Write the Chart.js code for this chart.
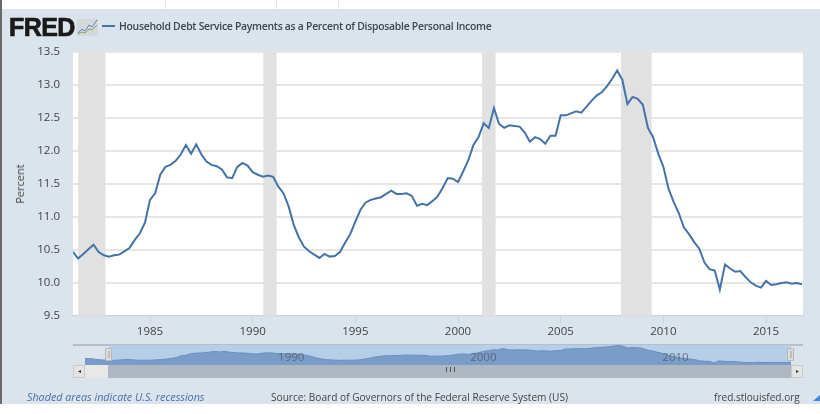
<!DOCTYPE html>
<html><head><meta charset="utf-8">
<script src="https://cdn.jsdelivr.net/npm/chart.js@4"></script>
<style>
html,body{margin:0;padding:0;background:#fff;width:820px;height:414px;overflow:hidden;font-family:"Open Sans",sans-serif}
#panel{position:absolute;left:2px;top:9px;width:818px;height:395px;background:#dbe3ec}
#edge{position:absolute;left:0;top:0;width:2px;height:404px;background:#6a6a6a}
.gap{position:absolute;top:0;width:1px;height:9px;background:#e4e8ee}
#main{position:absolute;left:0;top:0}
#nav{position:absolute;left:73px;top:344px}
#logo{position:absolute;left:9px;top:12px;font:900 25px/30px "Liberation Sans",sans-serif;color:#1a1a1a;letter-spacing:-.6px;-webkit-text-stroke:.7px #1a1a1a}
#icon{position:absolute;left:77px;top:19px}
#swatch{position:absolute;left:102px;top:25px;width:13px;height:2px;background:#4572a7}
#title{position:absolute;left:119px;top:18px;font:600 10.4px/16px "Open Sans",sans-serif;letter-spacing:-.27px;color:#3e4650;white-space:nowrap}
.foot{position:absolute;top:389px;line-height:16px;color:#444;white-space:nowrap}
#track{position:absolute;left:73px;top:344px;width:730px;height:1.5px;background:#b9bec6}
.bar{position:absolute;top:365px;height:13px}
.btn{position:absolute;top:365px;width:12px;height:13px;box-sizing:border-box;background:#e4e4e4;border:1px solid #c9c9c9;color:#333;font-size:6px;line-height:11px;text-align:center}
.handle{position:absolute;top:348px;width:7px;height:13px;box-sizing:border-box;background:#dcdcdc;border:1px solid #b5b5b5;border-radius:1px}
.handle i{position:absolute;left:1.5px;top:2px;width:2px;height:7px;background:#bdbdbd}
#grip{position:absolute;left:446px;top:367px;width:7px;height:5px;border-left:1px solid #555;border-right:1px solid #555}
#grip:after{content:"";position:absolute;left:2.5px;top:0;width:1px;height:5px;background:#555}
#corner{position:absolute;left:813px;top:395px;width:0;height:0;border-left:7px solid transparent;border-bottom:6px solid #3f86e0}
</style></head><body>
<div id="edge"></div><div class="gap" style="left:165px"></div><div class="gap" style="left:276px"></div><div class="gap" style="left:338px"></div>
<div id="panel"></div>
<canvas id="main" width="820" height="414" style="width:820px;height:414px"></canvas>
<div id="track"></div>
<canvas id="nav" width="730" height="21" style="width:730px;height:21px"></canvas>
<div id="logo">FRED</div>
<svg id="icon" width="21" height="17" viewBox="0 0 21 17"><rect width="21" height="17" fill="#d5d8da"/><polyline points="1,14 5,10 8,12 12,6 15,8 20,1" fill="none" stroke="#5b86b8" stroke-width="1"/><polyline points="1,15 5,13 8,14 12,10 15,11 20,6" fill="none" stroke="#7fa65a" stroke-width="1"/></svg>
<div id="swatch"></div>
<div id="title">Household Debt Service Payments as a Percent of Disposable Personal Income</div>
<div class="handle" style="left:105px"><i></i></div>
<div class="handle" style="left:787px"><i></i></div>
<div class="bar" style="left:85px;width:23px;background:#e8e8e8"></div>
<div class="bar" style="left:108px;width:683px;background:#afb8c2"></div>
<div class="btn" style="left:73px">◂</div><div class="btn" style="left:791px">▸</div>
<div id="grip"></div>
<div class="foot" style="left:27px;font-size:10.75px;font-style:italic;color:#4572a7">Shaded areas indicate U.S. recessions</div>
<div class="foot" style="left:271px;font-size:10.15px">Source: Board of Governors of the Federal Reserve System (US)</div>
<div class="foot" style="left:714px;font-size:10.05px">fred.stlouisfed.org</div>
<div id="corner"></div>
<script>
const seriesName = "Household Debt Service Payments as a Percent of Disposable Personal Income";
const firstQuarter = 1981.25;
const debtService = [
10.47,10.37,10.44,10.51,10.58,10.47,10.42,10.40,10.42,10.43,10.48,10.53,10.65,10.75,10.91,11.26,
11.36,11.64,11.76,11.79,11.85,11.95,12.09,11.96,12.10,11.95,11.84,11.79,11.77,11.72,11.60,11.59,
11.76,11.82,11.78,11.68,11.64,11.61,11.63,11.61,11.46,11.36,11.16,10.88,10.69,10.55,10.48,10.43,
10.38,10.44,10.40,10.41,10.47,10.61,10.74,10.93,11.11,11.22,11.26,11.28,11.30,11.35,11.40,11.35,
11.35,11.36,11.32,11.17,11.20,11.18,11.24,11.31,11.44,11.59,11.58,11.53,11.69,11.86,12.09,12.21,
12.42,12.35,12.65,12.41,12.35,12.39,12.38,12.37,12.28,12.14,12.21,12.18,12.11,12.23,12.23,12.54,
12.54,12.57,12.60,12.58,12.67,12.76,12.84,12.89,12.98,13.09,13.22,13.08,12.71,12.82,12.79,12.70,
12.35,12.21,11.96,11.76,11.43,11.23,11.06,10.84,10.74,10.62,10.52,10.31,10.21,10.19,9.90,10.28,
10.22,10.17,10.18,10.09,10.01,9.96,9.93,10.03,9.97,9.98,10.00,10.01,9.99,10.00,9.98];
const navFirstQuarter = 1980;
const navEarlyValues = [10.7,10.72,10.6,10.5,10.45];
const yTicks = [9.5,10,10.5,11,11.5,12,12.5,13,13.5];
const xTicks = [1985,1990,1995,2000,2005,2010,2015];
const navTicks = [1990,2000,2010];
const recessionStart = [1981.5,1990.52,2001.17,2007.94];
const recessionEnd = [1982.83,1991.17,2001.83,2009.43];

const points = debtService.map((v,i)=>({x:firstQuarter+i/4,y:v}));
const navPoints = navEarlyValues.map((v,i)=>({x:navFirstQuarter+i/4,y:v})).concat(points);

const bands = {id:'bands',beforeDatasetsDraw(c){
  const {ctx,chartArea:a,scales:{x}}=c;ctx.save();ctx.fillStyle='#e1e1e1';
  recessionStart.forEach((s,i)=>{const l=x.getPixelForValue(s),r=x.getPixelForValue(recessionEnd[i]);ctx.fillRect(l,a.top,r-l,a.bottom-a.top);});
  ctx.restore();}};
const plotBg = {id:'plotBg',beforeDraw(c){const {ctx,chartArea:a}=c;ctx.save();ctx.fillStyle='#fff';ctx.fillRect(a.left,a.top,a.right-a.left,a.bottom-a.top);ctx.restore();}};
const navBg = {id:'navBg',beforeDraw(c){const {ctx,chartArea:a,scales:{x}}=c;const l=x.getPixelForValue(firstQuarter);ctx.save();ctx.fillStyle='#b7cee9';ctx.fillRect(l,a.top,a.right-l,a.bottom-a.top);ctx.restore();}};
const navLabels = {id:'navLabels',afterDatasetsDraw(c){const {ctx,chartArea:a,scales:{x}}=c;ctx.save();ctx.fillStyle='rgba(80,85,95,.75)';ctx.font='11.5px "Open Sans",sans-serif';ctx.textBaseline='middle';
  navTicks.forEach(v=>ctx.fillText(String(v),x.getPixelForValue(v)+1,a.bottom-7));ctx.restore();}};

const font = {family:'"Open Sans",sans-serif',size:11.5};
new Chart(document.getElementById('main'),{type:'line',plugins:[plotBg,bands],
 data:{datasets:[{label:seriesName,data:points,borderColor:'#4572a7',borderWidth:2,pointRadius:0,tension:0,fill:false}]},
 options:{responsive:false,animation:false,devicePixelRatio:1,
  layout:{padding:{left:0,right:17,top:52,bottom:0}},
  plugins:{legend:{display:false},tooltip:{enabled:false}},
  scales:{
   x:{type:'linear',min:firstQuarter,max:firstQuarter+(debtService.length-1)/4+0.05,
      afterBuildTicks(a){a.ticks=xTicks.map(v=>({value:v}));},
      afterFit(a){a.height=98;},
      grid:{display:true,drawOnChartArea:false,color:'#c5d3e3',tickLength:7},
      border:{color:'#c5d3e3',width:1.5},
      ticks:{color:'#444',font,maxRotation:0,autoSkip:false,padding:2,callback:v=>String(v)}},
   y:{min:9.5,max:13.5,
      afterBuildTicks(a){a.ticks=yTicks.map(v=>({value:v}));},
      afterFit(a){a.width=73;},
      grid:{color:'#e6e6e6',lineWidth:2,drawTicks:false},
      border:{display:false},
      ticks:{color:'#444',font,padding:13,autoSkip:false,callback:v=>v.toFixed(1)}}
  }}});

new Chart(document.getElementById('nav'),{type:'line',plugins:[navBg,navLabels],
 data:{datasets:[{label:seriesName,data:navPoints,borderColor:'#6a8fc2',backgroundColor:'#7a9cc8',borderWidth:1,pointRadius:0,tension:0,fill:'origin'}]},
 options:{responsive:false,animation:false,devicePixelRatio:1,
  layout:{padding:{left:12,right:12,top:1,bottom:0}},
  plugins:{legend:{display:false},tooltip:{enabled:false}},
  scales:{
   x:{type:'linear',display:false,min:navFirstQuarter,max:firstQuarter+(debtService.length-1)/4},
   y:{display:false,min:9.5,max:13.3}
  }}});

const pct=document.createElement('div');pct.textContent='Percent';
pct.style.cssText='position:absolute;left:20px;top:184px;font-size:11px;line-height:14px;color:#444;transform:translate(-50%,-50%) rotate(-90deg);white-space:nowrap';
document.body.appendChild(pct);
</script>
</body></html>
